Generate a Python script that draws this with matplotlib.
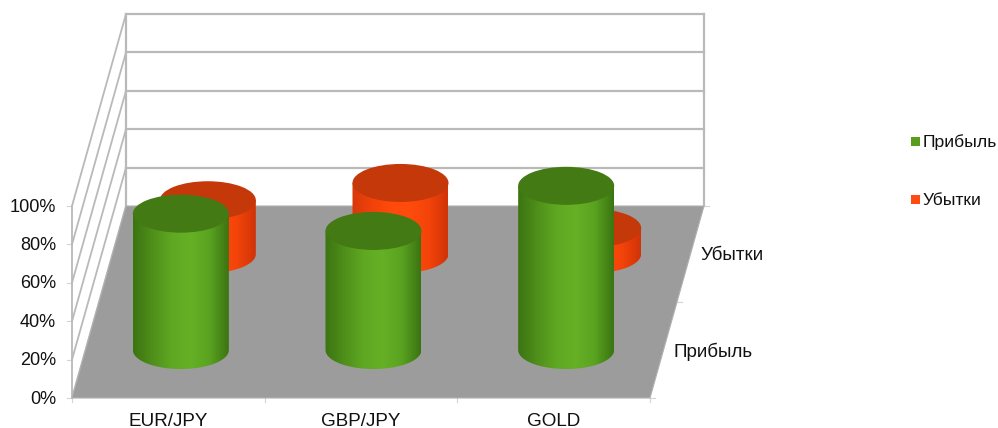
"""
3D-look cylinder chart, profit / loss share per instrument.
Drawn on a flat axes in pixel units, the depth is a simple skew.
"""
import numpy as np
import matplotlib
matplotlib.use("Agg")
import matplotlib.pyplot as plt
from matplotlib.colors import LinearSegmentedColormap
from matplotlib.patches import Ellipse, PathPatch, Polygon, Rectangle
from matplotlib.path import Path

categories = ["EUR/JPY", "GBP/JPY", "GOLD"]
series_names = ["Прибыль", "Убытки"]
profit = [71, 62, 85.5]
loss = [28, 37, 13.5]
value_ticks = [0, 20, 40, 60, 80, 100]

GRID = "#b9b9b9"
TICK = "#d4d4d4"
FLOOR = "#9c9c9c"
TEXT = "#111111"
GREEN_SIDE = ["#3b7412", "#4f8f1a", "#5fa822", "#66b026", "#5aa320", "#3b7412"]
GREEN_TOP = "#437a14"
GREEN_KEY = "#5a9c1c"
RED_SIDE = ["#d8380a", "#f0420a", "#ff4a0c", "#ff4c0c", "#f4440a", "#d03408"]
RED_TOP = "#c4380a"
RED_KEY = "#ff4a12"

# chart frame, in pixels
LEFT, RIGHT, BASE = 72, 650, 398
SKEW_X, SKEW_Y = 54, 192
VALUE_PX = 1.92
RX, RY = 48, 19

plt.rcParams["font.family"] = ["Liberation Sans", "DejaVu Sans"]

fig = plt.figure(figsize=(9.98, 4.28), dpi=100, facecolor="white")
ax = fig.add_axes([0, 0, 1, 1])


def project(cat, value, depth):
    """cat in category units, value in %, depth 0 (front) to 1 (back)."""
    step = (RIGHT - LEFT) / len(categories)
    return (LEFT + cat * step + depth * SKEW_X,
            BASE - depth * SKEW_Y - value * VALUE_PX)


def cylinder(cat, value, depth, side_colors, top_color, z):
    cx, y_base = project(cat + 0.5, 0, depth)
    cx -= 1
    _, y_top = project(cat + 0.5, value, depth)
    t = np.linspace(0, np.pi, 60)
    arc = np.column_stack([cx + RX * np.cos(t), y_base + RY * np.sin(t)])
    verts = np.vstack([[[cx + RX, y_top]], arc, [[cx - RX, y_top]], [[cx + RX, y_top]]])
    clip = PathPatch(Path(verts), transform=ax.transData, fc="none", ec="none")
    ax.add_patch(clip)
    cmap = LinearSegmentedColormap.from_list("side", side_colors)
    img = ax.imshow(np.linspace(0, 1, 200)[None, :], cmap=cmap, aspect="auto",
                    extent=(cx - RX, cx + RX, y_base + RY, y_top),
                    zorder=z, interpolation="bilinear")
    img.set_clip_path(clip)
    ax.add_patch(Ellipse((cx, y_top), 2 * RX, 2 * RY, fc=top_color, ec="none",
                         zorder=z + 0.1))


# back wall
for v in value_ticks[1:]:
    x0, y0 = project(0, v, 1)
    x1, y1 = project(3, v, 1)
    ax.plot([x0, x1], [y0, y1], color=GRID, lw=1.6, zorder=1)
ax.plot([LEFT + SKEW_X] * 2, [project(0, 0, 1)[1], project(0, 100, 1)[1]],
        color=GRID, lw=1.6, zorder=1)
ax.plot([RIGHT + SKEW_X] * 2, [project(3, 0, 1)[1], project(3, 100, 1)[1]],
        color=GRID, lw=1.6, zorder=1)

# side wall and value ticks
for v in value_ticks:
    x0, y0 = project(0, v, 0)
    x1, y1 = project(0, v, 1)
    ax.plot([x0, x1], [y0, y1], color=GRID, lw=1.3, zorder=1)
    ax.plot([x0 - 5, x0], [y0, y0], color=TICK, lw=0.8, zorder=1)
    ax.text(x0 - 16, y0 + 1, f"{v}%", ha="right", va="center", fontsize=13.1,
            color=TEXT)
ax.plot([LEFT, LEFT], [project(0, 0, 0)[1], project(0, 100, 0)[1]],
        color=GRID, lw=1.3, zorder=1)

# floor
ax.add_patch(Polygon([project(0, 0, 0), project(3, 0, 0),
                      project(3, 0, 1), project(0, 0, 1)],
                     closed=True, fc=FLOOR, ec="#b0b0b0", lw=0.8, zorder=2))

# category ticks and labels
for i in range(len(categories) + 1):
    x0, y0 = project(i, 0, 0)
    ax.plot([x0, x0], [y0, y0 + 4], color=TICK, lw=0.8, zorder=1)
for i, name in enumerate(categories):
    x0, y0 = project(i + 0.5, 0, 0)
    ax.text(x0 - 0.5, y0 + 23, name, ha="center", va="center", fontsize=13.6, color=TEXT)

# depth ticks and labels
for d in [0, 0.5, 1]:
    x0, y0 = project(3, 0, d)
    ax.plot([x0, x0 + 5], [y0, y0], color=TICK, lw=0.8, zorder=1)
for d, name in zip([0.25, 0.75], series_names):
    x0, y0 = project(3, 0, d)
    ax.text(x0 + 10, y0 + 1.5, name, ha="left", va="center", fontsize=13.6, color=TEXT)

# back row first, the front row hides it
for i, v in enumerate(loss):
    cylinder(i, v, 0.75, RED_SIDE, RED_TOP, 3 + i * 0.2)
for i, v in enumerate(profit):
    cylinder(i, v, 0.25, GREEN_SIDE, GREEN_TOP, 5 + i * 0.2)

# legend
for y, name, key in zip([141.5, 199.5], series_names, [GREEN_KEY, RED_KEY]):
    ax.add_patch(Rectangle((911.5, y - 4.5), 8.5, 9, fc=key, ec="none", zorder=6))
    ax.text(923, y + 0.5, name, ha="left", va="center", fontsize=12.6, color=TEXT)

ax.set_xlim(0, 998)
ax.set_ylim(428, 0)
ax.axis("off")

fig.savefig("out.png", dpi=100, facecolor="white")
